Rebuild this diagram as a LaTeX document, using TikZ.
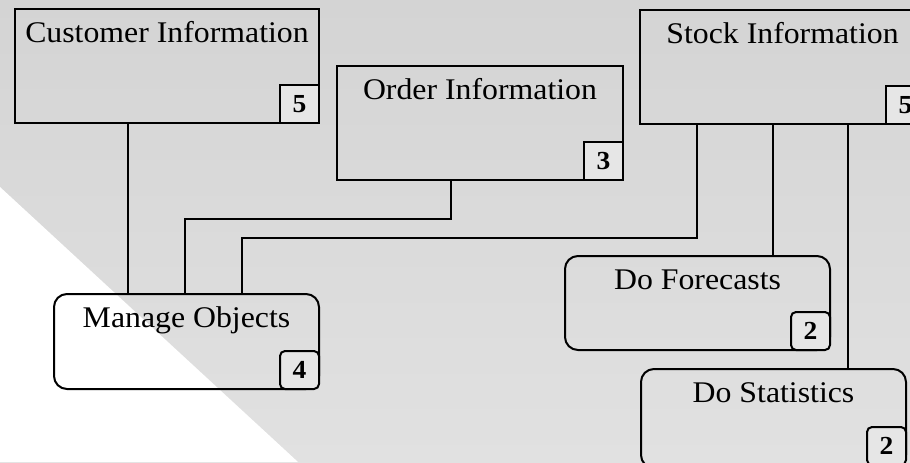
\documentclass[tikz,border=0pt]{standalone}
\usepackage{fontspec}
\setmainfont{Liberation Serif}[FakeStretch=1.06]
\usetikzlibrary{calc}
\begin{document}
\begin{tikzpicture}[x=0.5pt,y=-0.5pt,
  box/.style={draw=black, line width=1pt, rectangle, anchor=north west, inner sep=0pt},
  rbox/.style={box, rounded corners=6.5pt},
  badge/.style={draw=black, line width=1pt, fill=badgefill, rectangle, anchor=south east,
    minimum width=19.5pt, minimum height=19pt, inner sep=0pt,
    font=\fontsize{13}{15}\selectfont\bfseries},
  rbadge/.style={badge, rounded corners=2.5pt},
  title/.style={anchor=base, inner sep=0pt, font=\fontsize{15}{17}\selectfont},
  link/.style={draw=black, line width=1pt}]
\definecolor{bgtop}{HTML}{D4D4D4}
\definecolor{bgbot}{HTML}{E1E1E1}
\definecolor{badgefill}{HTML}{E6E6E6}
\useasboundingbox (0,0) rectangle (910,462);
\fill[top color=bgtop, bottom color=bgbot] (0,0) rectangle (910,462);
\fill[white] (0,187) -- (298,462) -- (0,462) -- cycle;
\begin{scope}
\clip (0,0) rectangle (910,462);
% boxes
\node[box, minimum width=152pt, minimum height=57pt] (cust) at (14,8) {};
\node[box, minimum width=143pt, minimum height=57pt] (order) at (336,65) {};
\node[box, minimum width=142.5pt, minimum height=57pt] (stock) at (639,9) {};
\node[rbox, minimum width=132.5pt, minimum height=47.5pt] (manage) at (53,293) {};
\node[rbox, minimum width=132.5pt, minimum height=47pt] (fore) at (564,255) {};
\node[rbox, minimum width=132.5pt, minimum height=49.5pt] (stat) at (640,368) {};
% titles
\node[title] (custT) at ([yshift=-17pt]cust.north) {Customer Information};
\node[title] (orderT) at ([yshift=-17pt]order.north) {Order Information};
\node[title] (stockT) at ([yshift=-17pt]stock.north) {Stock Information};
\node[title] (manageT) at ([yshift=-17pt]manage.north) {Manage Objects};
\node[title] (foreT) at ([yshift=-17pt]fore.north) {Do Forecasts};
\node[title] (statT) at ([yshift=-17pt]stat.north) {Do Statistics};
% badges
\node[badge] (custB) at (cust.south east) {5};
\node[badge] (orderB) at (order.south east) {3};
\node[badge] (stockB) at (stock.south east) {5};
\node[rbadge] (manageB) at (manage.south east) {4};
\node[rbadge] (foreB) at (fore.south east) {2};
\node[rbadge] (statB) at ([yshift=1.5pt]stat.south east) {2};
% connectors
\draw[link] ([xshift=57pt]cust.south west) -- ([xshift=37.5pt]manage.north west);
\draw[link] ([xshift=57.5pt]order.south west) -- ++(0,38) -| ([xshift=66pt]manage.north west);
\draw[link] ([xshift=29pt]stock.south west) -- ++(0,113) -| ([xshift=94.5pt]manage.north west);
\draw[link] ([xshift=67pt]stock.south west) -- ([xshift=67pt]stock.south west |- fore.north);
\draw[link] ([xshift=104.5pt]stock.south west) -- ([xshift=104.5pt]stock.south west |- stat.north);
\end{scope}
\end{tikzpicture}
\end{document}
